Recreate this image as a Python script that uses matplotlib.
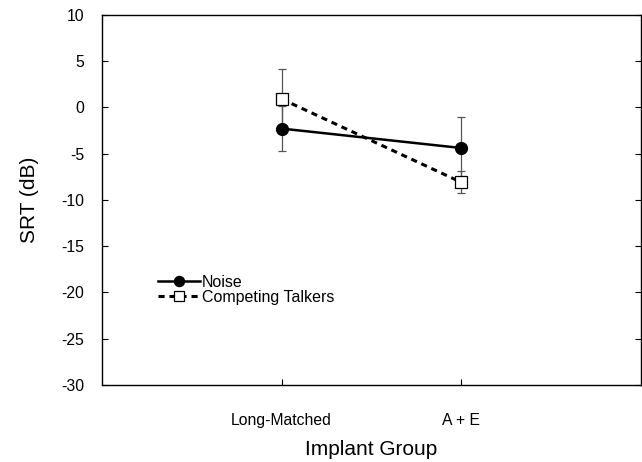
import matplotlib
matplotlib.use("Agg")
import matplotlib.pyplot as plt

# data
groups = ["Long-Matched", "A + E"]
noise_mean = [-2.3, -4.4]
noise_sd = [2.4, 3.3]
talkers_mean = [0.9, -8.1]
talkers_sd = [3.2, 1.2]
y_ticks = [10, 5, 0, -5, -10, -15, -20, -25, -30]

plt.rcParams["font.family"] = ["Liberation Sans", "DejaVu Sans"]

fig = plt.figure(figsize=(6.42, 4.62), dpi=100)
ax = fig.add_axes([0.159, 0.167, 0.839, 0.801])

x = [1, 2]
ax.errorbar(x, noise_mean, yerr=noise_sd, fmt="none", ecolor="#555555",
            elinewidth=0.9, capsize=3, capthick=0.9, zorder=1)
ax.errorbar(x, talkers_mean, yerr=talkers_sd, fmt="none", ecolor="#555555",
            elinewidth=0.9, capsize=3, capthick=0.9, zorder=1)
ax.plot(x, noise_mean, "-", color="black", lw=1.8, marker="o",
        markersize=8.5, markerfacecolor="black", label="Noise", zorder=3)
ax.plot(x, talkers_mean, color="black", lw=2.2, ls=(0, (2.0, 1.6)),
        marker="s", markersize=8.5, markerfacecolor="white",
        markeredgewidth=0.9, label="Competing Talkers", zorder=4)

ax.set_xlim(0, 3)
ax.set_ylim(-30, 10)
ax.set_xticks(x)
ax.set_xticklabels(groups, fontsize=11.3)
ax.set_yticks(y_ticks)
ax.set_yticklabels([str(v) for v in y_ticks], fontsize=11.3)
ax.tick_params(axis="both", direction="in", length=4, width=0.8)
ax.tick_params(axis="x", pad=20)
ax.tick_params(axis="y", right=True, pad=13)
for sp in ax.spines.values():
    sp.set_linewidth(1.0)

ax.set_xlabel("Implant Group", fontsize=15, labelpad=9)
ax.set_ylabel("SRT (dB)", fontsize=15, labelpad=16)

ax.legend(loc="upper left", bbox_to_anchor=(0.092, 0.315), frameon=False,
          fontsize=11.5, handlelength=2.6, handletextpad=0.15, labelspacing=0.0,
          borderaxespad=0, markerscale=0.85)

fig.savefig("out.png", dpi=100)
